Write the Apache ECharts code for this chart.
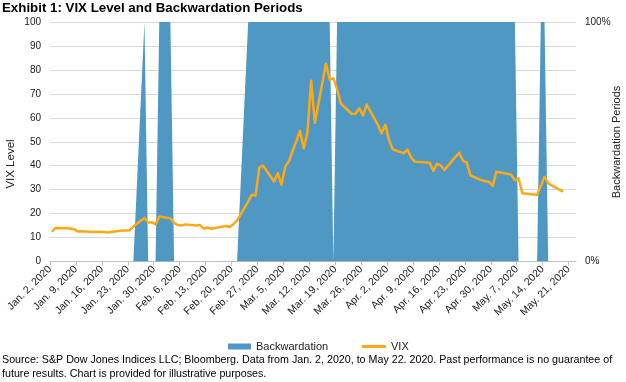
<!DOCTYPE html>
<html>
<head>
<meta charset="utf-8">
<script src="https://cdn.jsdelivr.net/npm/echarts@6/dist/echarts.min.js"></script>
<style>
html,body{margin:0;padding:0;background:#fff;}
#chart{width:626px;height:382px;}
</style>
</head>
<body>
<div id="chart"></div>
<script>
// ---- Data ----
const dates = [
  '2020-01-02','2020-01-03','2020-01-06','2020-01-07','2020-01-08','2020-01-09','2020-01-10','2020-01-13','2020-01-14','2020-01-15','2020-01-16','2020-01-17','2020-01-21','2020-01-22','2020-01-23','2020-01-24','2020-01-27','2020-01-28','2020-01-29','2020-01-30','2020-01-31',
  '2020-02-03','2020-02-04','2020-02-05','2020-02-06','2020-02-07','2020-02-10','2020-02-11','2020-02-12','2020-02-13','2020-02-14','2020-02-18','2020-02-19','2020-02-20','2020-02-21','2020-02-24','2020-02-25','2020-02-26','2020-02-27','2020-02-28',
  '2020-03-02','2020-03-03','2020-03-04','2020-03-05','2020-03-06','2020-03-09','2020-03-10','2020-03-11','2020-03-12','2020-03-13','2020-03-16','2020-03-17','2020-03-18','2020-03-19','2020-03-20','2020-03-23','2020-03-24','2020-03-25','2020-03-26','2020-03-27','2020-03-30','2020-03-31',
  '2020-04-01','2020-04-02','2020-04-03','2020-04-06','2020-04-07','2020-04-08','2020-04-09','2020-04-13','2020-04-14','2020-04-15','2020-04-16','2020-04-17','2020-04-20','2020-04-21','2020-04-22','2020-04-23','2020-04-24','2020-04-27','2020-04-28','2020-04-29','2020-04-30',
  '2020-05-01','2020-05-04','2020-05-05','2020-05-06','2020-05-07','2020-05-08','2020-05-11','2020-05-12','2020-05-13','2020-05-14','2020-05-15','2020-05-18','2020-05-19'
];
const vix = [
  12.5,14.0,13.9,13.8,13.5,12.5,12.6,12.3,12.4,12.4,12.3,12.1,12.9,12.9,13.0,14.6,18.2,16.3,16.4,15.5,18.8,
  18.0,16.1,15.2,15.0,15.5,15.0,15.2,13.7,14.2,13.7,14.8,14.4,15.6,17.1,25.0,27.9,27.6,39.2,40.1,
  33.4,36.8,32.0,39.6,41.9,54.5,47.3,53.9,75.5,57.8,82.7,75.9,76.5,72.0,66.0,61.6,61.7,64.0,61.0,65.5,57.1,53.5,
  57.1,50.9,46.8,45.2,46.7,43.4,41.7,41.2,37.8,40.8,40.1,38.2,43.8,45.4,42.0,41.4,35.9,34.0,33.5,33.3,31.5,
  37.5,36.6,36.2,34.0,34.7,28.5,28.0,27.8,31.5,35.4,32.6,30.0,29.2
];
// 1 = backwardation day, 0 = contango
const backwardation = [
  0,0,0,0,0,0,0,0,0,0,0,0,0,0,0,0,1,0,0,0,1,
  1,0,0,0,0,0,0,0,0,0,0,0,0,0,1,1,1,1,1,
  1,1,1,1,1,1,1,1,1,1,1,1,0,1,1,1,1,1,1,1,1,1,
  1,1,1,1,1,1,1,1,1,1,1,1,1,1,1,1,1,1,1,1,1,
  1,1,1,1,0,0,0,0,1,1,0,0,0
];
const tickDates = ['2020-01-02','2020-01-09','2020-01-16','2020-01-23','2020-01-30','2020-02-06','2020-02-13','2020-02-20','2020-02-27','2020-03-05','2020-03-12','2020-03-19','2020-03-26','2020-04-02','2020-04-09','2020-04-16','2020-04-23','2020-04-30','2020-05-07','2020-05-14','2020-05-21'];
const tickLabels = ['Jan. 2, 2020','Jan. 9, 2020','Jan. 16, 2020','Jan. 23, 2020','Jan. 30, 2020','Feb. 6, 2020','Feb. 13, 2020','Feb. 20, 2020','Feb. 27, 2020','Mar. 5, 2020','Mar. 12, 2020','Mar. 19, 2020','Mar. 26, 2020','Apr. 2, 2020','Apr. 9, 2020','Apr. 16, 2020','Apr. 23, 2020','Apr. 30, 2020','May. 7, 2020','May. 14, 2020','May. 21, 2020'];
const axisEndDate = '2020-05-23';

// ---- helpers ----
function dayOffset(s){
  const p = s.split('-').map(Number);
  return (Date.UTC(p[0],p[1]-1,p[2]) - Date.UTC(2020,0,2)) / 86400000;
}
const tickValues = tickDates.map(dayOffset);
const labelByValue = {};
tickValues.forEach((v,i)=>{ labelByValue[v] = tickLabels[i]; });
// points sit in the middle of their day slot (date axis, between tick marks)
const vixData = dates.map((d,i)=>[dayOffset(d)+0.5, vix[i]]);
const bwData = dates.map((d,i)=>[dayOffset(d)+0.5, backwardation[i]]);

const FONT = "'Liberation Sans', Arial, sans-serif";
const BLUE = '#4F98C3';
const ORANGE = '#FFA914';
const GRIDC = '#D9D9D9';

const chart = echarts.init(document.getElementById('chart'), null, {renderer:'canvas'});
chart.setOption({
  animation:false,
  backgroundColor:'#fff',
  textStyle:{fontFamily:FONT},
  grid:{left:50,right:50,top:22,bottom:120.5,containLabel:false},
  xAxis:{
    type:'value', min:0, max:dayOffset(axisEndDate),
    splitLine:{show:false},
    axisLine:{show:true,onZero:false,lineStyle:{color:'#BFBFBF',width:1}},
    axisTick:{show:true,customValues:tickValues,length:4,lineStyle:{color:'#BFBFBF'}},
    axisLabel:{customValues:tickValues,rotate:45,margin:6,fontSize:10.5,color:'#222',fontFamily:FONT,
      formatter:function(v){ return labelByValue[v] || ''; }}
  },
  yAxis:[{
    type:'value', min:0, max:100, interval:10,
    axisLine:{show:false}, axisTick:{show:false},
    splitLine:{show:true,lineStyle:{color:GRIDC,width:1}},
    axisLabel:{fontSize:10,color:'#222',margin:9,fontFamily:FONT}
  },{
    type:'value', min:0, max:1, interval:1, position:'right',
    axisLine:{show:false}, axisTick:{show:false}, splitLine:{show:false},
    axisLabel:{fontSize:10,color:'#222',margin:9,fontFamily:FONT,
      formatter:function(v){ return Math.round(v*100)+'%'; }}
  }],
  legend:[{
    data:[{name:'Backwardation',icon:'rect'}],
    left:223, top:336, itemWidth:23, itemHeight:6,
    textStyle:{fontSize:11,color:'#222',fontFamily:FONT}
  },{
    data:[{name:'VIX',icon:'rect'}],
    left:357, top:336, itemWidth:24, itemHeight:3,
    textStyle:{fontSize:11,color:'#222',fontFamily:FONT}
  }],
  series:[{
    name:'Backwardation', type:'line', yAxisIndex:1, data:bwData,
    symbol:'none', color:BLUE, itemStyle:{color:BLUE},
    lineStyle:{width:0}, areaStyle:{color:BLUE,opacity:1}, z:1
  },{
    name:'VIX', type:'line', yAxisIndex:0, data:vixData,
    symbol:'none', color:ORANGE, itemStyle:{color:ORANGE},
    lineStyle:{color:ORANGE,width:2.5,join:'round'}, z:3
  }],
  graphic:[
    {type:'text', left:2, top:2, style:{text:'Exhibit 1: VIX Level and Backwardation Periods', font:"bold 13.3px "+FONT, fill:'#000'}},
    {type:'text', x:11, y:164, rotation:Math.PI/2, style:{text:'VIX Level', font:"11.5px "+FONT, fill:'#222', align:'center', verticalAlign:'middle'}},
    {type:'text', x:617, y:142, rotation:Math.PI/2, style:{text:'Backwardation Periods', font:"11px "+FONT, fill:'#222', align:'center', verticalAlign:'middle'}},
    {type:'text', left:2, top:353, style:{text:'Source: S&P Dow Jones Indices LLC; Bloomberg. Data from Jan. 2, 2020, to May 22. 2020. Past performance is no guarantee of\nfuture results. Chart is provided for illustrative purposes.', font:"10.7px "+FONT, fill:'#000', lineHeight:14}}
  ]
});
</script>
</body>
</html>
